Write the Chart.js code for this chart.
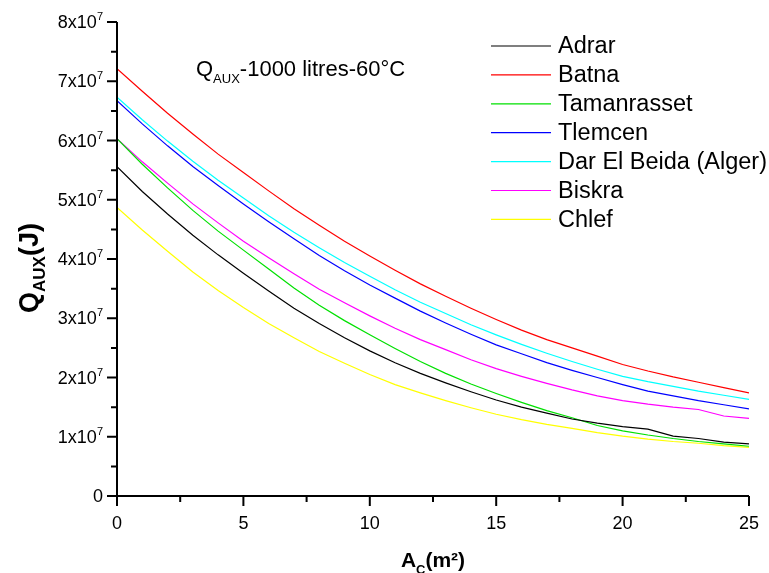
<!DOCTYPE html>
<html>
<head>
<meta charset="utf-8">
<title>QAUX - 1000 litres - 60°C</title>
<script src="https://cdn.jsdelivr.net/npm/chart.js@4.4.1/dist/chart.umd.min.js"></script>
<style>
  html, body { margin: 0; padding: 0; background: #fff; }
</style>
</head>
<body>
<canvas id="myChart" width="769" height="573"></canvas>
<script>
'use strict';



// <------------------ DATA ------------------>

let collectorArea = [0, 1, 2, 3, 4, 5, 6, 7, 8, 9, 10, 11, 12, 13, 14, 15, 16, 17, 18, 19, 20, 21, 22, 23, 24, 25];

let adrar = [5.56e7, 5.14e7, 4.76e7, 4.40e7, 4.07e7, 3.76e7, 3.46e7, 3.17e7, 2.91e7, 2.67e7, 2.45e7, 2.25e7, 2.07e7,
  1.91e7, 1.76e7, 1.62e7, 1.50e7, 1.40e7, 1.30e7, 1.23e7, 1.17e7, 1.13e7, 1.01e7, 0.97e7, 0.91e7, 0.88e7];
let batna = [7.21e7, 6.83e7, 6.46e7, 6.11e7, 5.77e7, 5.46e7, 5.15e7, 4.85e7, 4.57e7, 4.30e7, 4.05e7, 3.81e7, 3.58e7,
  3.37e7, 3.17e7, 2.98e7, 2.80e7, 2.64e7, 2.50e7, 2.36e7, 2.22e7, 2.11e7, 2.01e7, 1.92e7, 1.83e7, 1.74e7];
let tamanrasset = [6.03e7, 5.60e7, 5.20e7, 4.82e7, 4.47e7, 4.15e7, 3.83e7, 3.51e7, 3.22e7, 2.96e7, 2.72e7, 2.49e7, 2.27e7,
  2.07e7, 1.89e7, 1.73e7, 1.58e7, 1.44e7, 1.32e7, 1.19e7, 1.10e7, 1.03e7, 0.97e7, 0.92e7, 0.88e7, 0.84e7];
let tlemcen = [6.67e7, 6.28e7, 5.91e7, 5.56e7, 5.24e7, 4.93e7, 4.63e7, 4.34e7, 4.06e7, 3.80e7, 3.56e7, 3.34e7, 3.12e7,
  2.92e7, 2.73e7, 2.55e7, 2.40e7, 2.25e7, 2.12e7, 2.00e7, 1.88e7, 1.77e7, 1.69e7, 1.61e7, 1.54e7, 1.47e7];
let darElBeida = [6.73e7, 6.35e7, 5.99e7, 5.65e7, 5.33e7, 5.03e7, 4.73e7, 4.45e7, 4.19e7, 3.94e7, 3.71e7, 3.48e7, 3.27e7,
  3.08e7, 2.89e7, 2.72e7, 2.56e7, 2.41e7, 2.27e7, 2.14e7, 2.02e7, 1.93e7, 1.85e7, 1.77e7, 1.70e7, 1.63e7];
let biskra = [6.03e7, 5.64e7, 5.28e7, 4.93e7, 4.61e7, 4.30e7, 4.02e7, 3.75e7, 3.49e7, 3.26e7, 3.04e7, 2.83e7, 2.64e7,
  2.47e7, 2.30e7, 2.15e7, 2.02e7, 1.90e7, 1.79e7, 1.69e7, 1.61e7, 1.55e7, 1.50e7, 1.46e7, 1.35e7, 1.31e7];
let chlef = [4.87e7, 4.49e7, 4.13e7, 3.78e7, 3.47e7, 3.18e7, 2.91e7, 2.67e7, 2.44e7, 2.24e7, 2.05e7, 1.88e7, 1.74e7,
  1.61e7, 1.49e7, 1.38e7, 1.29e7, 1.21e7, 1.14e7, 1.07e7, 1.01e7, 0.96e7, 0.92e7, 0.89e7, 0.85e7, 0.82e7];

let cityNames = ['Adrar', 'Batna', 'Tamanrasset', 'Tlemcen', 'Dar El Beida (Alger)', 'Biskra', 'Chlef'];
let citySeries = [adrar, batna, tamanrasset, tlemcen, darElBeida, biskra, chlef];
let cityColors = ['#000000', '#ff0000', '#00e000', '#0000ff', '#00ffff', '#ff00ff', '#ffff00'];

let xTickValues = [0, 5, 10, 15, 20, 25];
let xMinorValues = [2.5, 7.5, 12.5, 17.5, 22.5];
let yTickValues = [0, 1e7, 2e7, 3e7, 4e7, 5e7, 6e7, 7e7, 8e7];
let yTickLabels = ['0', '1x10', '2x10', '3x10', '4x10', '5x10', '6x10', '7x10', '8x10'];
let yMinorValues = [0.5e7, 1.5e7, 2.5e7, 3.5e7, 4.5e7, 5.5e7, 6.5e7, 7.5e7];
let yExponent = '7';



// <------------------ HELPER FUNCTIONS ------------------>

const FONT = '"Liberation Sans", Arial, sans-serif';

// draws a list of text pieces (with sub/superscript offsets) one after the other
function drawPieces(c, pieces, x, y, align) {
  let total = 0;
  for (let p of pieces) {
    c.font = p.font;
    total += c.measureText(p.text).width;
  }
  let start = x;
  if (align === 'center') start = x - total / 2;
  if (align === 'right') start = x - total;
  c.textAlign = 'left';
  c.textBaseline = 'alphabetic';
  for (let p of pieces) {
    c.font = p.font;
    c.fillText(p.text, start, y + (p.dy || 0));
    start += c.measureText(p.text).width;
  }
}

let originAxes = {
  id: 'originAxes',
  afterDraw(chart) {
    let c = chart.ctx;
    let xs = chart.scales.x;
    let ys = chart.scales.y;
    let left = xs.getPixelForValue(0);
    let right = xs.getPixelForValue(25);
    let bottom = ys.getPixelForValue(0);
    let top = ys.getPixelForValue(8e7);

    c.save();
    c.strokeStyle = '#000';
    c.fillStyle = '#000';
    c.lineWidth = 2;

    // axis lines
    c.beginPath();
    c.moveTo(left, top);
    c.lineTo(left, bottom);
    c.lineTo(right, bottom);
    c.stroke();

    // ticks
    c.beginPath();
    for (let v of yTickValues) {
      let py = ys.getPixelForValue(v);
      c.moveTo(left, py);
      c.lineTo(left - 10, py);
    }
    for (let v of yMinorValues) {
      let py = ys.getPixelForValue(v);
      c.moveTo(left, py);
      c.lineTo(left - 6, py);
    }
    for (let v of xTickValues) {
      let px = xs.getPixelForValue(v);
      c.moveTo(px, bottom);
      c.lineTo(px, bottom + 10);
    }
    for (let v of xMinorValues) {
      let px = xs.getPixelForValue(v);
      c.moveTo(px, bottom);
      c.lineTo(px, bottom + 6);
    }
    c.stroke();

    // y tick labels
    for (let i = 0; i < yTickValues.length; i++) {
      let py = ys.getPixelForValue(yTickValues[i]);
      let pieces = [{ text: yTickLabels[i], font: '18px ' + FONT }];
      if (i > 0) pieces.push({ text: yExponent, font: '11px ' + FONT, dy: -8 });
      drawPieces(c, pieces, left - 14, py + 6, 'right');
    }

    // x tick labels
    for (let v of xTickValues) {
      let px = xs.getPixelForValue(v);
      drawPieces(c, [{ text: String(v), font: '18px ' + FONT }], px, bottom + 33, 'center');
    }

    // x axis title
    drawPieces(c, [
      { text: 'A', font: 'bold 21px ' + FONT },
      { text: 'C', font: 'bold 13px ' + FONT, dy: 7 },
      { text: '(m²)', font: 'bold 21px ' + FONT }
    ], (left + right) / 2, 567, 'center');

    // y axis title
    c.save();
    c.translate(38, 268);
    c.rotate(-Math.PI / 2);
    drawPieces(c, [
      { text: 'Q', font: 'bold 27px ' + FONT },
      { text: 'AUX', font: 'bold 17px ' + FONT, dy: 7 },
      { text: '(J)', font: 'bold 27px ' + FONT }
    ], 0, 0, 'center');
    c.restore();

    // chart label
    drawPieces(c, [
      { text: 'Q', font: '22px ' + FONT },
      { text: 'AUX', font: '13px ' + FONT, dy: 7 },
      { text: '-1000 litres-60°C', font: '22px ' + FONT }
    ], 196, 76, 'left');

    // legend
    c.lineWidth = 1.2;
    for (let i = 0; i < cityNames.length; i++) {
      let ly = 46 + i * 28.9;
      c.strokeStyle = cityColors[i];
      c.beginPath();
      c.moveTo(491, ly);
      c.lineTo(551, ly);
      c.stroke();
      c.fillStyle = '#000';
      c.font = '23.5px ' + FONT;
      c.textBaseline = 'middle';
      c.textAlign = 'left';
      c.fillText(cityNames[i], 558, ly + 1);
    }

    c.restore();
  }
};



// <------------------ CHART ------------------>

let ctx = document.getElementById('myChart').getContext('2d');

let datasets = [];
for (let i = 0; i < cityNames.length; i++) {
  let points = [];
  for (let j = 0; j < collectorArea.length; j++) {
    points.push({ x: collectorArea[j], y: citySeries[i][j] });
  }
  datasets.push({
    label: cityNames[i],
    data: points,
    borderColor: cityColors[i],
    backgroundColor: cityColors[i],
    borderWidth: 1.2,
    pointRadius: 0,
    tension: 0,
    fill: false
  });
}

let myChartObj = {
  type: 'line',
  data: { datasets: datasets },
  options: {
    responsive: false,
    animation: false,
    layout: { padding: { left: 117, right: 20, top: 22, bottom: 77 } },
    plugins: {
      legend: { display: false },
      tooltip: { enabled: false }
    },
    scales: {
      x: {
        type: 'linear',
        min: 0,
        max: 25,
        grid: { display: false, drawTicks: false },
        border: { display: false },
        ticks: { display: false }
      },
      y: {
        min: 0,
        max: 8e7,
        grid: { display: false, drawTicks: false },
        border: { display: false },
        ticks: { display: false }
      }
    }
  },
  plugins: [originAxes]
};

const myChart = new Chart(ctx, myChartObj);
</script>
</body>
</html>
